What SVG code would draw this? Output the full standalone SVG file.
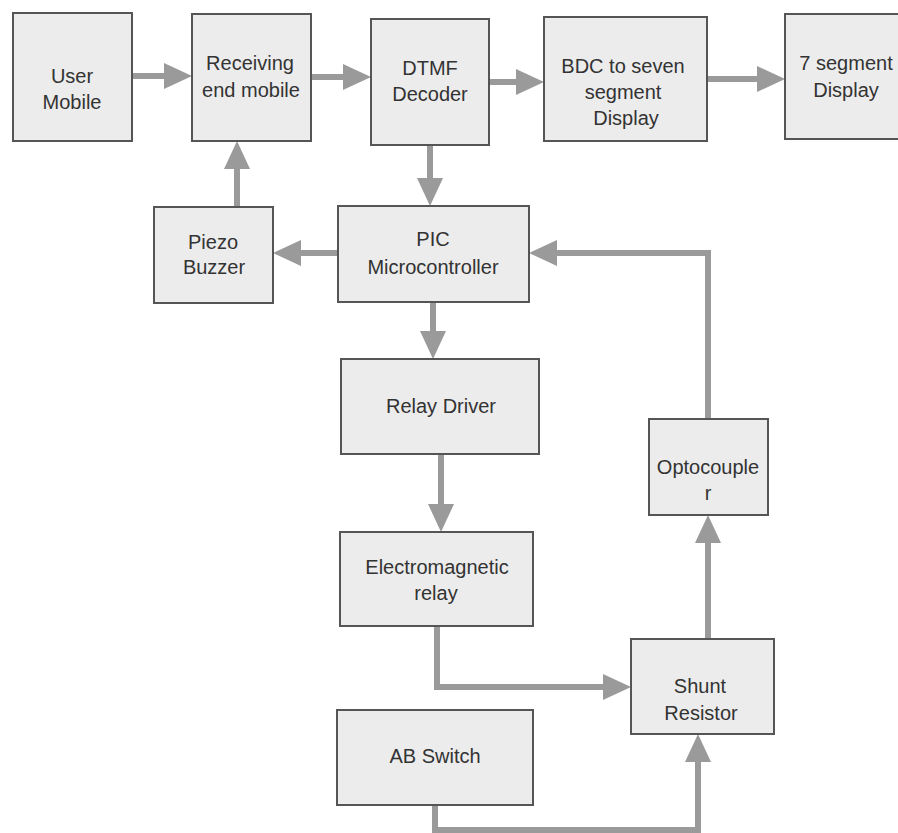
<svg xmlns="http://www.w3.org/2000/svg" width="898" height="833" viewBox="0 0 898 833">
<style>
.box{fill:#ececec;stroke:#555;stroke-width:2}
.t{font-family:"Liberation Sans",Arial,sans-serif;font-size:20px;fill:#333;text-anchor:middle}
.c{fill:none;stroke:#9a9a9a;stroke-width:6}
</style>
<defs>
<marker id="ah" viewBox="0 0 28 26" refX="0" refY="13" markerWidth="28" markerHeight="26" markerUnits="userSpaceOnUse" orient="auto">
<path d="M0,0 L28,13 L0,26 z" fill="#9a9a9a"/>
</marker>
</defs>
<rect width="898" height="833" fill="#fff"/>
<g id="connectors">
<path class="c" marker-end="url(#ah)" d="M132,76 H164"/>
<path class="c" marker-end="url(#ah)" d="M311,77 H343"/>
<path class="c" marker-end="url(#ah)" d="M489,82 H516"/>
<path class="c" marker-end="url(#ah)" d="M707,79 H757"/>
<path class="c" marker-end="url(#ah)" d="M430,145 V178"/>
<path class="c" marker-end="url(#ah)" d="M338,253 H301"/>
<path class="c" marker-end="url(#ah)" d="M237,207 V169"/>
<path class="c" marker-end="url(#ah)" d="M433,302 V331"/>
<path class="c" marker-end="url(#ah)" d="M441,454 V504"/>
<path class="c" marker-end="url(#ah)" d="M708,419 V253 H557"/>
<path class="c" marker-end="url(#ah)" d="M708,639 V543"/>
<path class="c" marker-end="url(#ah)" d="M437,626 V687 H603"/>
<path class="c" marker-end="url(#ah)" d="M435,805 V830 H698 V762"/>
</g>
<g id="user-mobile"><rect class="box" x="13" y="13" width="119" height="128"/><text class="t" x="72" y="83">User</text><text class="t" x="72" y="109">Mobile</text></g>
<g id="receiving"><rect class="box" x="192" y="14" width="119" height="127"/><text class="t" x="250" y="70">Receiving</text><text class="t" x="251" y="97">end mobile</text></g>
<g id="dtmf"><rect class="box" x="371" y="19" width="118" height="126"/><text class="t" x="430" y="75">DTMF</text><text class="t" x="430" y="101">Decoder</text></g>
<g id="bdc"><rect class="box" x="544" y="17" width="163" height="124"/><text class="t" x="623" y="73">BDC to seven</text><text class="t" x="623" y="99">segment</text><text class="t" x="626" y="125">Display</text></g>
<g id="seven-seg"><rect class="box" x="785" y="14" width="125" height="125"/><text class="t" x="846" y="70">7 segment</text><text class="t" x="846" y="97">Display</text></g>
<g id="piezo"><rect class="box" x="154" y="207" width="119" height="96"/><text class="t" x="213" y="249">Piezo</text><text class="t" x="214" y="274">Buzzer</text></g>
<g id="pic"><rect class="box" x="338" y="206" width="191" height="96"/><text class="t" x="433" y="246">PIC</text><text class="t" x="433" y="274">Microcontroller</text></g>
<g id="relay-driver"><rect class="box" x="341" y="359" width="198" height="95"/><text class="t" x="441" y="413">Relay Driver</text></g>
<g id="em-relay"><rect class="box" x="340" y="532" width="193" height="94"/><text class="t" x="437" y="574">Electromagnetic</text><text class="t" x="436" y="600">relay</text></g>
<g id="optocoupler"><rect class="box" x="649" y="419" width="119" height="96"/><text class="t" x="708" y="474">Optocouple</text><text class="t" x="708" y="500">r</text></g>
<g id="shunt"><rect class="box" x="631" y="639" width="143" height="95"/><text class="t" x="700" y="693">Shunt</text><text class="t" x="701" y="720">Resistor</text></g>
<g id="ab-switch"><rect class="box" x="337" y="710" width="196" height="95"/><text class="t" x="435" y="763">AB Switch</text></g>
</svg>
